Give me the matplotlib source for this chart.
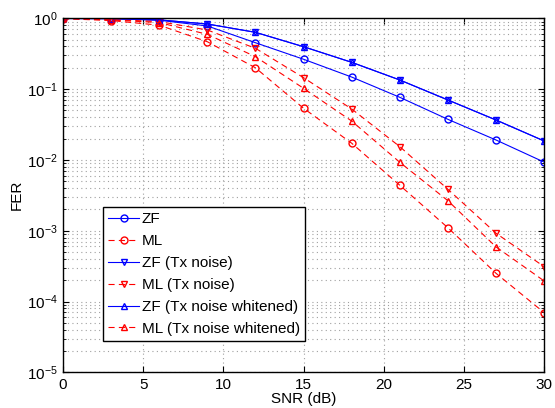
import numpy as np
import matplotlib
matplotlib.use("Agg")
import matplotlib.pyplot as plt
from matplotlib.ticker import LogLocator, NullFormatter, MultipleLocator

plt.rcParams['font.family'] = ['Liberation Sans', 'DejaVu Sans']
plt.rcParams['mathtext.fontset'] = 'custom'
plt.rcParams['mathtext.rm'] = 'Liberation Sans'
plt.rcParams['mathtext.it'] = 'Liberation Sans'

# SNR points (dB)
snr = [0, 3, 6, 9, 12, 15, 18, 21, 24, 27, 30]

# FER curves
fer_zf = [0.995, 0.99, 0.94, 0.78, 0.452, 0.264, 0.148, 0.0766, 0.0374, 0.0191, 0.0093]
fer_ml = [0.99, 0.93, 0.80, 0.467, 0.200, 0.0536, 0.0172, 0.00438, 0.0011, 0.00025, 0.0000695]
fer_zf_tx = [0.995, 0.99, 0.95, 0.831, 0.634, 0.397, 0.239, 0.1345, 0.0702, 0.0366, 0.0185]
fer_ml_tx = [0.995, 0.96, 0.90, 0.684, 0.377, 0.145, 0.0524, 0.0154, 0.00384, 0.00092, 0.00031]
fer_zf_txw = [0.995, 0.99, 0.95, 0.831, 0.634, 0.397, 0.239, 0.1345, 0.0702, 0.0366, 0.0185]
fer_ml_txw = [0.995, 0.95, 0.87, 0.594, 0.287, 0.1026, 0.0354, 0.00925, 0.00265, 0.00059, 0.000195]

labels = ['ZF', 'ML', 'ZF (Tx noise)', 'ML (Tx noise)',
          'ZF (Tx noise whitened)', 'ML (Tx noise whitened)']

fig = plt.figure(figsize=(5.55, 4.08), dpi=100)
ax = fig.add_axes([0.1135, 0.0875, 0.867, 0.8676])

blue = '#0000ff'
red = '#ff0000'
ms = 5
lw = 0.8
dash = (0, (5.5, 3.8))

ax.semilogy(snr, fer_zf, '-', color=blue, marker='o', mfc='none', ms=ms, lw=lw, label=labels[0])
ax.semilogy(snr, fer_ml, ls=dash, color=red, marker='o', mfc='none', ms=ms, lw=lw, label=labels[1])
ax.semilogy(snr, fer_zf_tx, '-', color=blue, marker='v', mfc='none', ms=ms, lw=lw, label=labels[2])
ax.semilogy(snr, fer_ml_tx, ls=dash, color=red, marker='v', mfc='none', ms=ms, lw=lw, label=labels[3])
ax.semilogy(snr, fer_zf_txw, '-', color=blue, marker='^', mfc='none', ms=ms, lw=lw, label=labels[4])
ax.semilogy(snr, fer_ml_txw, ls=dash, color=red, marker='^', mfc='none', ms=ms, lw=lw, label=labels[5])

ax.set_xlim(0, 30)
ax.set_ylim(1e-5, 1)
ax.xaxis.set_major_locator(MultipleLocator(5))
ax.yaxis.set_major_locator(LogLocator(base=10, numticks=10))
ax.yaxis.set_minor_locator(LogLocator(base=10, subs=np.arange(2, 10), numticks=20))
ax.yaxis.set_minor_formatter(NullFormatter())

grid_style = dict(linestyle=(0, (1, 3)), color='#a0a0a0', lw=0.8)
ax.grid(True, which='major', **grid_style)
ax.grid(True, which='minor', axis='y', **grid_style)
ax.tick_params(which='both', direction='in', top=True, right=True, labelsize=11, pad=4)
ax.tick_params(which='major', length=4)
ax.tick_params(which='minor', length=2)
for s in ax.spines.values():
    s.set_linewidth(1.0)

ax.set_xlabel('SNR (dB)', fontsize=11, labelpad=0)
ax.set_ylabel('FER', fontsize=11, labelpad=2)

leg = ax.legend(loc='lower left', bbox_to_anchor=(0.083, 0.088), fontsize=11,
                fancybox=False, edgecolor='black', framealpha=1,
                handlelength=2.0, borderpad=0.35, labelspacing=0.52,
                handletextpad=0.2, borderaxespad=0)
leg.get_frame().set_linewidth(1.0)

fig.savefig('out.png', dpi=100)
